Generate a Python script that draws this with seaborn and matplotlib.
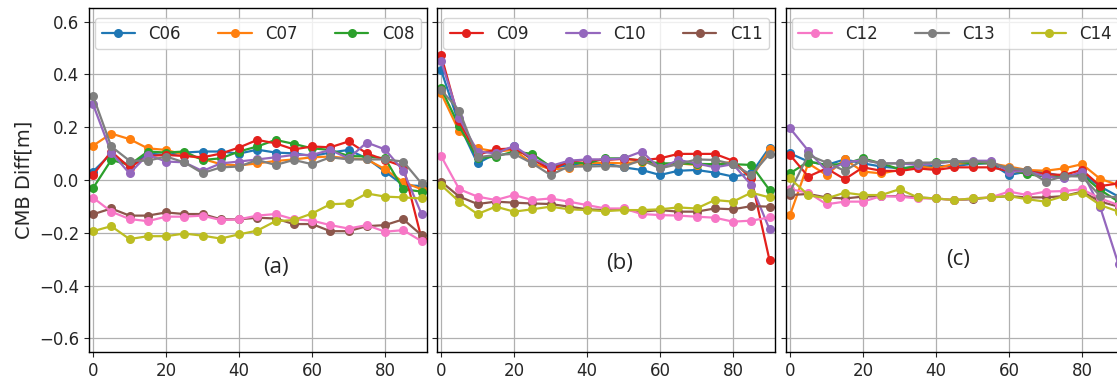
import numpy as np
import pandas as pd
import matplotlib
matplotlib.use("Agg")
import matplotlib.pyplot as plt
import seaborn as sns

angles = list(range(0, 95, 5))
series = ["C06", "C07", "C08", "C09", "C10", "C11", "C12", "C13", "C14"]
panel_tags = ["(a)", "(b)", "(c)"]

panel_a = {
    "C06": [0.032, 0.10, 0.05, 0.10, 0.095, 0.104, 0.108, 0.108, 0.10, 0.115, 0.104, 0.101, 0.091, 0.104, 0.114, 0.082, 0.032, -0.019, -0.023],
    "C07": [0.13, 0.176, 0.155, 0.12, 0.114, 0.096, 0.08, 0.06, 0.055, 0.063, 0.072, 0.078, 0.086, 0.089, 0.082, 0.078, 0.041, -0.008, -0.035],
    "C08": [-0.031, 0.076, 0.057, 0.108, 0.104, 0.108, 0.076, 0.082, 0.108, 0.127, 0.152, 0.137, 0.12, 0.114, 0.091, 0.089, 0.082, -0.035, -0.044],
    "C09": [0.019, 0.108, 0.047, 0.091, 0.095, 0.091, 0.086, 0.10, 0.123, 0.152, 0.139, 0.116, 0.127, 0.124, 0.146, 0.101, 0.076, 0.051, -0.222],
    "C10": [0.287, 0.104, 0.025, 0.096, 0.07, 0.067, 0.034, 0.063, 0.07, 0.078, 0.086, 0.095, 0.095, 0.114, 0.082, 0.142, 0.116, 0.035, -0.129],
    "C11": [-0.13, -0.108, -0.135, -0.135, -0.123, -0.129, -0.129, -0.149, -0.149, -0.143, -0.146, -0.167, -0.167, -0.194, -0.194, -0.175, -0.171, -0.149, -0.209],
    "C12": [-0.067, -0.12, -0.148, -0.156, -0.139, -0.139, -0.135, -0.152, -0.149, -0.135, -0.129, -0.149, -0.154, -0.171, -0.184, -0.171, -0.196, -0.19, -0.232],
    "C13": [0.319, 0.127, 0.073, 0.073, 0.089, 0.067, 0.026, 0.048, 0.051, 0.076, 0.057, 0.076, 0.06, 0.086, 0.078, 0.078, 0.078, 0.07, -0.013],
    "C14": [-0.194, -0.175, -0.224, -0.213, -0.213, -0.203, -0.211, -0.222, -0.206, -0.192, -0.156, -0.152, -0.127, -0.092, -0.089, -0.051, -0.063, -0.066, -0.07],
}

panel_b = {
    "C06": [0.418, 0.21, 0.063, 0.10, 0.127, 0.076, 0.044, 0.057, 0.057, 0.063, 0.048, 0.038, 0.019, 0.035, 0.038, 0.028, 0.013, 0.025, 0.123],
    "C07": [0.329, 0.184, 0.12, 0.108, 0.114, 0.063, 0.041, 0.044, 0.063, 0.066, 0.063, 0.07, 0.057, 0.063, 0.057, 0.057, 0.07, 0.006, 0.116],
    "C08": [0.348, 0.203, 0.082, 0.089, 0.108, 0.099, 0.051, 0.066, 0.063, 0.082, 0.082, 0.073, 0.063, 0.063, 0.061, 0.06, 0.06, 0.057, -0.038],
    "C09": [0.475, 0.222, 0.095, 0.116, 0.12, 0.082, 0.038, 0.07, 0.076, 0.076, 0.08, 0.075, 0.082, 0.099, 0.099, 0.099, 0.073, 0.006, -0.304],
    "C10": [0.452, 0.234, 0.108, 0.101, 0.129, 0.082, 0.053, 0.073, 0.078, 0.078, 0.082, 0.108, 0.044, 0.076, 0.063, 0.048, 0.06, -0.019, -0.187],
    "C11": [-0.006, -0.063, -0.091, -0.082, -0.086, -0.089, -0.091, -0.101, -0.111, -0.114, -0.111, -0.12, -0.114, -0.12, -0.12, -0.108, -0.111, -0.099, -0.101],
    "C12": [0.091, -0.035, -0.063, -0.076, -0.057, -0.076, -0.07, -0.082, -0.095, -0.108, -0.108, -0.129, -0.133, -0.135, -0.139, -0.143, -0.158, -0.154, -0.142],
    "C13": [0.342, 0.263, 0.086, 0.095, 0.099, 0.063, 0.019, 0.051, 0.051, 0.053, 0.051, 0.076, 0.044, 0.06, 0.078, 0.076, 0.06, 0.019, 0.099],
    "C14": [-0.019, -0.082, -0.129, -0.101, -0.12, -0.111, -0.101, -0.111, -0.114, -0.118, -0.114, -0.114, -0.111, -0.104, -0.108, -0.076, -0.082, -0.048, -0.066],
}

panel_c = {
    "C06": [0.101, 0.07, 0.057, 0.078, 0.063, 0.051, 0.044, 0.051, 0.053, 0.053, 0.061, 0.063, 0.019, 0.032, 0.028, 0.013, 0.025, -0.025, -0.063],
    "C07": [-0.133, 0.063, 0.019, 0.078, 0.032, 0.025, 0.038, 0.051, 0.044, 0.061, 0.066, 0.063, 0.051, 0.038, 0.035, 0.044, 0.06, 0.004, -0.019],
    "C08": [0.025, 0.07, 0.057, 0.061, 0.082, 0.063, 0.041, 0.053, 0.07, 0.07, 0.063, 0.066, 0.038, 0.022, 0.013, 0.013, 0.019, -0.038, -0.082],
    "C09": [0.095, 0.013, 0.044, 0.003, 0.048, 0.035, 0.034, 0.044, 0.038, 0.048, 0.048, 0.048, 0.034, 0.034, 0.022, 0.019, 0.038, -0.023, -0.013],
    "C10": [0.196, 0.111, 0.034, 0.066, 0.076, 0.063, 0.063, 0.057, 0.063, 0.07, 0.073, 0.073, 0.032, 0.034, 0.013, 0.006, 0.032, -0.104, -0.32],
    "C11": [-0.057, -0.053, -0.066, -0.07, -0.063, -0.061, -0.061, -0.066, -0.07, -0.076, -0.073, -0.066, -0.061, -0.066, -0.066, -0.061, -0.044, -0.082, -0.101],
    "C12": [-0.035, -0.048, -0.092, -0.082, -0.082, -0.061, -0.063, -0.07, -0.07, -0.076, -0.07, -0.066, -0.044, -0.057, -0.044, -0.042, -0.035, -0.07, -0.095],
    "C13": [-0.044, 0.095, 0.066, 0.035, 0.076, 0.063, 0.063, 0.066, 0.066, 0.07, 0.07, 0.066, 0.044, 0.038, -0.006, 0.015, 0.013, -0.061, -0.066],
    "C14": [0.006, -0.057, -0.07, -0.048, -0.057, -0.057, -0.035, -0.066, -0.07, -0.076, -0.07, -0.066, -0.061, -0.073, -0.082, -0.061, -0.048, -0.095, -0.12],
}

colors = ["#1f77b4", "#ff7f0e", "#2ca02c", "#e3201c", "#9467bd",
          "#8c564b", "#f777c6", "#7f7f7f", "#bcbd22"]


def to_long(panel):
    rows = []
    for name in series:
        for t, v in zip(angles, panel[name]):
            rows.append({"angle": t, "diff": v, "series": name})
    return pd.DataFrame(rows)


sns.set_style("ticks")
plt.rcParams["font.family"] = ["DejaVu Sans"]

fig = plt.figure(figsize=(11.17, 3.81), dpi=100)

# axes placed by hand; the right one runs past the figure edge like the source crop
lefts = [89 / 1117, 437 / 1117, 786 / 1117]
width = 338 / 1117
bottom = 1 - 352 / 381
height = 344 / 381

tag_pos = [(50, -0.33), (49, -0.315), (46, -0.30)]

for i, panel in enumerate([panel_a, panel_b, panel_c]):
    ax = fig.add_axes([lefts[i], bottom, width, height])
    df = to_long(panel)

    sns.lineplot(
        data=df,
        x="angle",
        y="diff",
        hue="series",
        hue_order=series,
        palette=colors,
        marker="o",
        markersize=6.5,
        markeredgewidth=0,
        linewidth=1.6,
        ax=ax,
    )

    ax.set_xlim(-1.1, 91.5)
    ax.set_ylim(-0.652, 0.652)
    ax.set_xticks([0, 20, 40, 60, 80])
    ax.set_yticks(np.arange(-0.6, 0.61, 0.2))
    ax.grid(True, color="#b0b0b0", linewidth=0.9)
    ax.tick_params(labelsize=12)
    ax.set_xlabel("")

    if i == 0:
        ax.set_ylabel("CMB Diff[m]", fontsize=14)
    else:
        ax.set_ylabel("")
        ax.set_yticklabels([])

    handles, labels = ax.get_legend_handles_labels()
    ax.legend(
        handles[3 * i:3 * i + 3],
        labels[3 * i:3 * i + 3],
        loc="upper center",
        ncol=3,
        fontsize=12,
        columnspacing=2.25,
        borderaxespad=0.6,
    )

    ax.text(tag_pos[i][0], tag_pos[i][1], panel_tags[i],
            fontsize=16, family="Open Sans", ha="center", va="center")

    for s in ax.spines.values():
        s.set_linewidth(1.0)
        s.set_color("black")

fig.savefig("out.png", dpi=100)
